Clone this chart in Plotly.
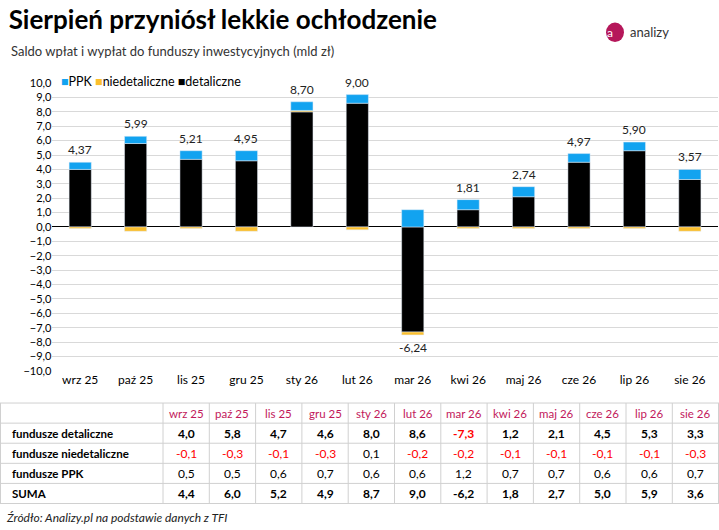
import plotly.graph_objects as go

months = ["wrz 25", "paź 25", "lis 25", "gru 25", "sty 26", "lut 26",
          "mar 26", "kwi 26", "maj 26", "cze 26", "lip 26", "sie 26"]
detaliczne = [4.0, 5.8, 4.7, 4.6, 8.0, 8.6, -7.3, 1.2, 2.1, 4.5, 5.3, 3.3]
niedetaliczne = [-0.1, -0.3, -0.1, -0.3, 0.1, -0.2, -0.2, -0.1, -0.1, -0.1, -0.1, -0.3]
ppk = [0.5, 0.5, 0.6, 0.7, 0.6, 0.6, 1.2, 0.7, 0.7, 0.6, 0.6, 0.7]
suma_labels = ["4,37", "5,99", "5,21", "4,95", "8,70", "9,00",
               "-6,24", "1,81", "2,74", "4,97", "5,90", "3,57"]
suma_table = [4.4, 6.0, 5.2, 4.9, 8.7, 9.0, -6.2, 1.8, 2.7, 5.0, 5.9, 3.6]
row_names = ["fundusze detaliczne", "fundusze niedetaliczne", "fundusze PPK", "SUMA"]

FONT = "Lato"
W, H = 719, 530
fig = go.Figure()
fig.add_trace(go.Bar(x=months, y=detaliczne, name="detaliczne", marker_color="black"))
fig.add_trace(go.Bar(x=months, y=niedetaliczne, name="niedetaliczne", marker_color="#fbbf2d"))
fig.add_trace(go.Bar(x=months, y=ppk, name="PPK", marker_color="#12a3f0"))

for m, d, n, p, lab in zip(months, detaliczne, niedetaliczne, ppk, suma_labels):
    pos = sum(v for v in (d, n, p) if v > 0)
    neg = sum(v for v in (d, n, p) if v < 0)
    if d >= 0:
        fig.add_annotation(x=m, y=pos, text=lab, showarrow=False, yanchor="bottom", yshift=3,
                           font=dict(size=12, color="#222"))
    else:
        fig.add_annotation(x=m, y=neg, text=lab, showarrow=False, yanchor="top", yshift=-3,
                           font=dict(size=12, color="#222"))


# table drawn by hand, positions in pixels converted to paper coords
def px(x):
    return x / W


def py(y):
    return 1 - y / H


def fmt(v):
    return f"{v:.1f}".replace(".", ",")


first_w, col_w, top, row_h = 163, 46.3, 406, 20.6
grid = "#d0d0d0"
for r in range(6):
    y = top + r * row_h
    fig.add_shape(type="line", xref="paper", yref="paper", x0=0, x1=1, y0=py(y), y1=py(y),
                  line=dict(color=grid, width=1))
for c in range(13):
    x = min(first_w + c * col_w, W - 0.5)
    fig.add_shape(type="line", xref="paper", yref="paper", x0=px(x), x1=px(x),
                  y0=py(top), y1=py(top + 5 * row_h), line=dict(color=grid, width=1))
fig.add_shape(type="line", xref="paper", yref="paper", x0=px(0.5), x1=px(0.5),
              y0=py(top), y1=py(top + 5 * row_h), line=dict(color=grid, width=1))

table_rows = [detaliczne, niedetaliczne, ppk, suma_table]
bold_rows = [True, False, False, True]
for i, m in enumerate(months):
    cx = px(first_w + (i + 0.5) * col_w)
    fig.add_annotation(xref="paper", yref="paper", x=cx, y=py(top + row_h / 2), text=m,
                       xanchor="center", yanchor="middle",
                       showarrow=False, font=dict(size=11.5, color="#c2185b"))
    for r, vals in enumerate(table_rows):
        v = vals[i]
        t = fmt(v)
        if bold_rows[r]:
            t = f"<b>{t}</b>"
        color = "red" if (v < 0 and r < 3) else "black"
        fig.add_annotation(xref="paper", yref="paper", x=cx, y=py(top + (r + 1.5) * row_h),
                           xanchor="center", yanchor="middle",
                           text=t, showarrow=False, font=dict(size=12, color=color))
for r, name in enumerate(row_names):
    fig.add_annotation(xref="paper", yref="paper", x=px(10), y=py(top + (r + 1.5) * row_h),
                       xanchor="left", yanchor="middle", text=f"<b>{name}</b>", showarrow=False,
                       font=dict(size=11.5, color="black"))

fig.update_layout(
    width=W, height=H, barmode="relative", bargap=0.6, showlegend=False,
    separators=",.", plot_bgcolor="white", paper_bgcolor="white",
    margin=dict(l=0, r=0, t=0, b=0),
    font=dict(family=FONT, size=12, color="black"),
    xaxis=dict(domain=[0.073, 0.998], tickfont=dict(size=12), showline=False, ticks=""),
    yaxis=dict(domain=[py(373), py(78)], range=[-10, 10], dtick=1, tickformat=".1f",
               gridcolor="#d9d9d9", zeroline=True, zerolinecolor="black", zerolinewidth=1,
               tickfont=dict(size=11)),
    title=dict(text="<b>Sierpień przyniósł lekkie ochłodzenie</b>", x=0.012, y=0.98,
               xanchor="left", font=dict(size=26, color="black")),
)
fig.add_annotation(xref="paper", yref="paper", x=0.082, y=0.856, xanchor="left", yanchor="middle",
                   text="<span style='color:#12a3f0'>■</span>PPK "
                        "<span style='color:#fbbf2d'>■</span>niedetaliczne "
                        "<span style='color:black'>■</span>detaliczne",
                   showarrow=False, font=dict(size=12.5, color="black"))
fig.add_annotation(xref="paper", yref="paper", x=0.012, y=0.935, xanchor="left",
                   text="Saldo wpłat i wypłat do funduszy inwestycyjnych (mld zł)",
                   showarrow=False, font=dict(size=13, color="#333"))
fig.add_annotation(xref="paper", yref="paper", x=0.005, y=py(523), xanchor="left", yanchor="middle",
                   text="<i>Źródło: Analizy.pl na podstawie danych z TFI</i>",
                   showarrow=False, font=dict(size=12, color="#222"))
fig.add_shape(type="circle", xref="paper", yref="paper", x0=px(606), x1=px(624), y0=py(36), y1=py(16),
              fillcolor="#b5175a", line_width=0)
fig.add_annotation(xref="paper", yref="paper", x=px(615), y=py(26), yanchor="middle", text="a",
                   showarrow=False, font=dict(size=12, color="white"))
fig.add_annotation(xref="paper", yref="paper", x=px(628), y=py(26), xanchor="left", yanchor="middle",
                   text="analizy", showarrow=False, font=dict(size=13, color="#333"))

fig.write_html("out.html", post_script="document.body.style.margin='0';",
               config={"displayModeBar": False})
